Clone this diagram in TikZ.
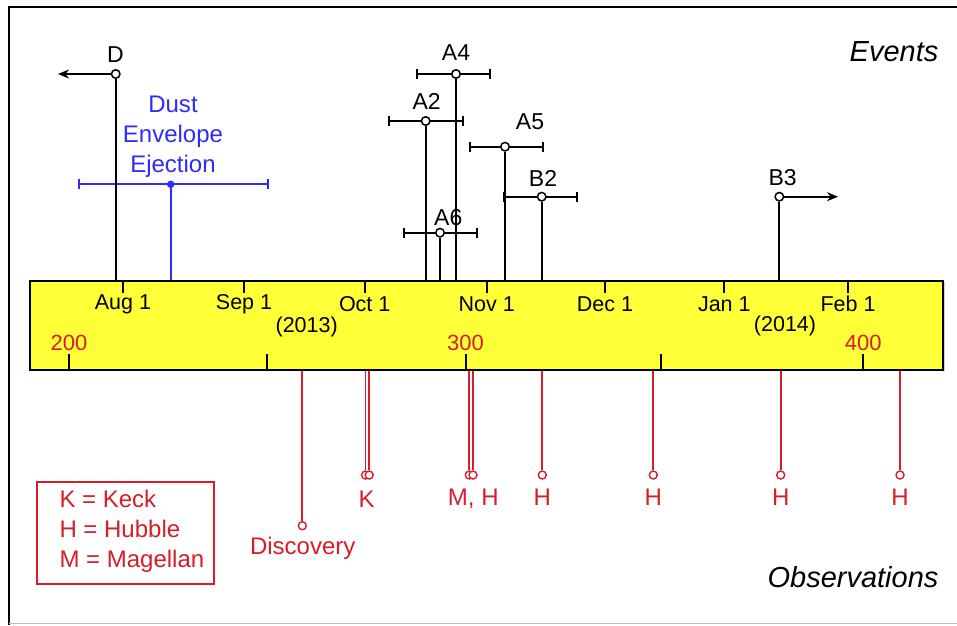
\documentclass[tikz,border=0pt]{standalone}
\usepackage{fontspec}
\setmainfont{Liberation Sans}
\usetikzlibrary{arrows.meta,shadows}
\definecolor{evblue}{RGB}{45,45,250}
\definecolor{obsred}{RGB}{215,30,40}
\definecolor{baryellow}{RGB}{255,255,55}
\tikzset{
  evc/.style={circle,draw=black,fill=white,line width=1.5pt,inner sep=0pt,minimum size=8.5pt},
  obc/.style={circle,draw=obsred,fill=white,line width=1.4pt,inner sep=0pt,minimum size=8pt},
  stem/.style={line width=2pt,black},
  obsline/.style={line width=1.8pt,obsred},
  errbar/.style={line width=1.9pt,{Bar[width=10pt]}-{Bar[width=10pt]}},
  evlab/.style={font=\fontsize{23}{27}\selectfont,inner sep=0pt},
  monlab/.style={font=\fontsize{21.5}{25}\selectfont,inner sep=0pt},
  numlab/.style={font=\fontsize{22}{26}\selectfont,text=obsred,inner sep=0pt},
  obslab/.style={font=\fontsize{24}{28}\selectfont,text=obsred,inner sep=0pt},
  tick/.style={line width=1.9pt,black},
  bigital/.style={font=\fontsize{29}{33}\selectfont\itshape,inner sep=0pt},
}
\begin{document}
\begin{tikzpicture}[x=1pt,y=-1pt]
\useasboundingbox (0,0) rectangle (957,625);
% frame
\draw[line width=2pt,black] (9,625) -- (9,7) -- (957,7);
\draw[line width=1.2pt,black!25] (9,623.5) -- (957,623.5);

% time bar
\node[draw=black,line width=2.2pt,fill=baryellow,minimum width=913pt,minimum height=89pt,
      anchor=north west,inner sep=0pt,
      drop shadow={shadow xshift=1.5pt,shadow yshift=-1.5pt,opacity=0.35}] (bar) at (29,279.5) {};

% month ticks and labels
\foreach \x/\m in {123/Aug 1,244/Sep 1,364.7/Oct 1,486.7/Nov 1,605/Dec 1,724.3/Jan 1,848/Feb 1}{
  \draw[tick] (\x,279.5) -- (\x,292.5);
  \node[monlab] at (\x,304) {\m};
}
\node[monlab] (y2013) at (306.7,326.5) {(2013)};
\node[monlab] (y2014) at (785,326) {(2014)};

% day ticks and numbers
\foreach \x in {69,267.3,466,660.7,863.3}{
  \draw[tick] (\x,354) -- (\x,368.5);
}
\node[numlab] (n200) at (69,342.5) {200};
\node[numlab] (n300) at (465.5,342.5) {300};
\node[numlab] (n400) at (863.3,342.5) {400};

% Events label
\node[bigital] (events) at (894,52) {Events};
\node[bigital] (observations) at (853,577) {Observations};

% Dust envelope ejection (blue)
\coordinate (DEl) at (77.7,184.3);
\coordinate (DEr) at (268.7,184.3);
\draw[errbar,evblue] (DEl) -- (DEr);
\node[circle,fill=evblue,inner sep=0pt,minimum size=7.5pt] (DE) at (170.7,184.3) {};
\draw[line width=2pt,evblue] (DE.center) -- (DE.center |- bar.north);
\node[font=\fontsize{24}{30}\selectfont,text=evblue,align=center,inner sep=0pt] (DEtxt) at (173,136.5) {Dust\\Envelope\\Ejection};

% D
\node[evc] (D) at (115.7,74) {};
\coordinate (Dend) at (58,74);
\draw[line width=1.9pt,-{Stealth[length=11pt,width=9pt]}] (D.west) -- (Dend);
\draw[stem] (D.south) -- (D.south |- bar.north);
\node[evlab] (Dl) at (115.5,55) {D};

% error bars
\coordinate (A4l) at (415.7,74);   \coordinate (A4r) at (491.3,74);
\coordinate (A2l) at (388.3,121);  \coordinate (A2r) at (464,121);
\coordinate (A5l) at (468.7,146.7);\coordinate (A5r) at (544.3,146.7);
\coordinate (B2l) at (502.7,196.7);\coordinate (B2r) at (578.3,196.7);
\coordinate (A6l) at (402.7,232.7);\coordinate (A6r) at (478.3,232.7);
\foreach \e in {A4,A2,A5,B2,A6}{\draw[errbar] (\e l) -- (\e r);}

\node[evc] (A4) at (456,74) {};
\node[evc] (A2) at (425.7,121) {};
\node[evc] (A5) at (505,146.7) {};
\node[evc] (B2) at (541.7,196.7) {};
\node[evc] (A6) at (440,232.7) {};
\node[evc] (B3) at (779.3,196.7) {};
\foreach \e in {A4,A2,A5,B2,A6,B3}{\draw[stem] (\e.south) -- (\e.south |- bar.north);}

\node[evlab] (A4t) at (456,53) {A4};
\node[evlab] (A2t) at (426.7,101.5) {A2};
\node[evlab] (A5t) at (530,121.5) {A5};
\node[evlab] (B2t) at (543,178) {B2};
\node[evlab] (A6t) at (448.3,218) {A6};
\node[evlab] (B3t) at (782.7,178) {B3};

\coordinate (B3end) at (838,196.7);
\draw[line width=1.9pt,-{Stealth[length=11pt,width=9pt]}] (B3.east) -- (B3end);

% observations
\node[obc] (disc) at (302.3,525.7) {};
\node[obc] (K1) at (365.5,475) {};
\node[obc] (K2) at (369.2,475) {};
\node[obc] (M1) at (469.3,475) {};
\node[obc] (H1) at (473,475) {};
\node[obc] (H2) at (542.3,475) {};
\node[obc] (H3) at (653.3,475) {};
\node[obc] (H4) at (780.7,475) {};
\node[obc] (H5) at (900,475) {};
\foreach \o in {disc,K1,K2,M1,H1,H2,H3,H4,H5}{\draw[obsline] (\o.north) -- (\o.north |- bar.south);}

\node[obslab] (discl) at (302.7,548.5) {Discovery};
\node[obslab] (Kl) at (366.7,499) {K};
\node[obslab] (MHl) at (473.3,499) {M, H};
\node[obslab] (H2l) at (542.3,497) {H};
\node[obslab] (H3l) at (653.3,497) {H};
\node[obslab] (H4l) at (780.7,497) {H};
\node[obslab] (H5l) at (900,497) {H};

% legend
\node[draw=obsred,line width=1.8pt,minimum width=177.6pt,minimum height=102pt,anchor=north west,inner sep=0pt,
      drop shadow={shadow xshift=1pt,shadow yshift=-1pt,opacity=0.25},fill=white] (legbox) at (35.7,480.7) {};
\node[obslab,anchor=west,align=left,font=\fontsize{24}{30}\selectfont] (legtxt) at (59.3,531.7) {K = Keck\\H = Hubble\\M = Magellan};
\end{tikzpicture}
\end{document}
